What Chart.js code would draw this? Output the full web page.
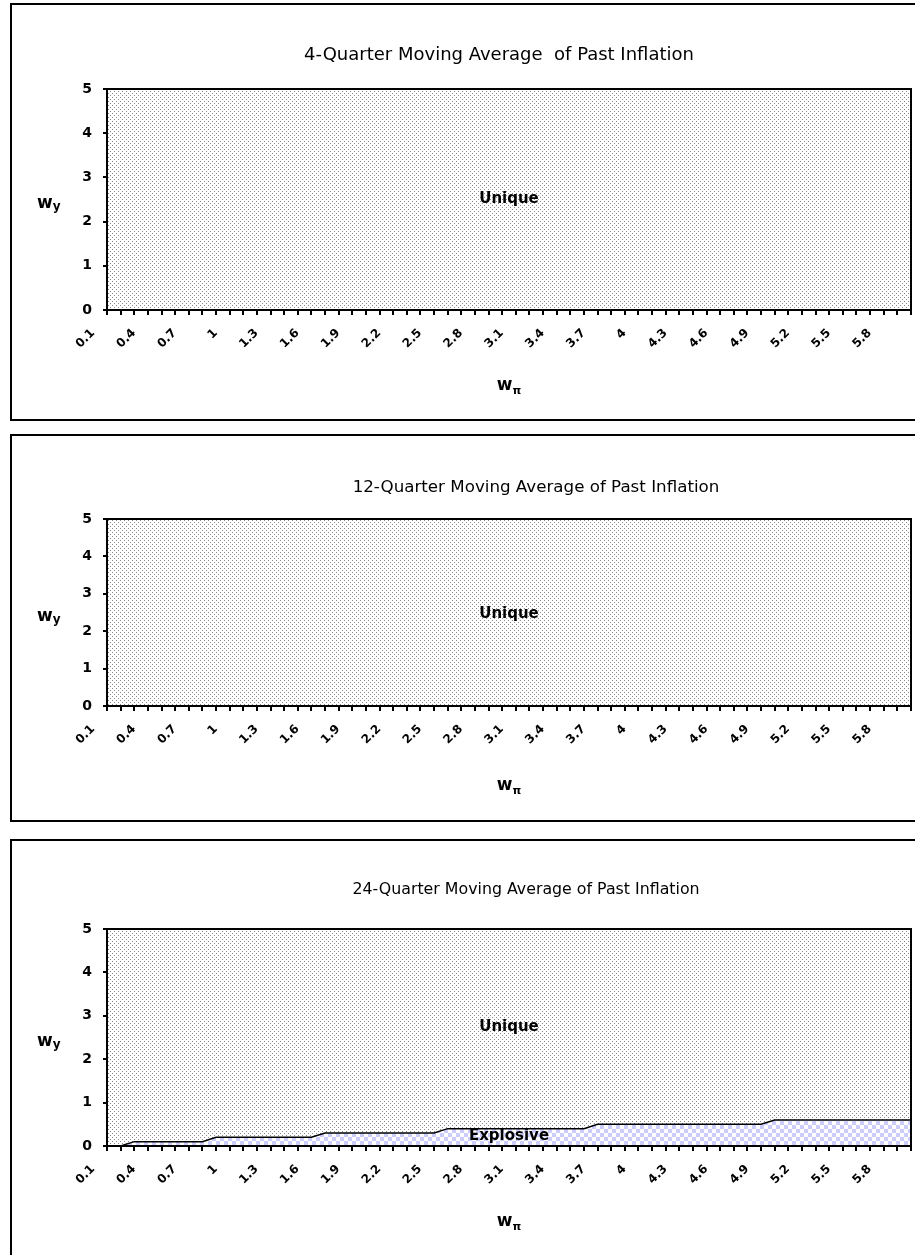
<!DOCTYPE html>
<html>
<head>
<meta charset="utf-8">
<script src="https://cdn.jsdelivr.net/npm/chart.js@4/dist/chart.umd.min.js"></script>
<style>
html, body { margin:0; padding:0; background:#fff; overflow:hidden; width:915px; height:1255px; }
.panel { position:absolute; left:10px; width:1000px; border:2px solid #000; box-sizing:border-box; background:#fff; }
.panel canvas { position:absolute; left:0; top:0; }
</style>
</head>
<body>
<div class="panel" id="p1"><canvas id="c1"></canvas></div>
<div class="panel" id="p2"><canvas id="c2"></canvas></div>
<div class="panel" id="p3"><canvas id="c3"></canvas></div>
<script>
// ---------- DATA ----------
const categories = ['0.1','0.2','0.3','0.4','0.5','0.6','0.7','0.8','0.9','1',
  '1.1','1.2','1.3','1.4','1.5','1.6','1.7','1.8','1.9','2',
  '2.1','2.2','2.3','2.4','2.5','2.6','2.7','2.8','2.9','3',
  '3.1','3.2','3.3','3.4','3.5','3.6','3.7','3.8','3.9','4',
  '4.1','4.2','4.3','4.4','4.5','4.6','4.7','4.8','4.9','5',
  '5.1','5.2','5.3','5.4','5.5','5.6','5.7','5.8','5.9','6'];
const tickLabels = ['0.1','0.4','0.7','1','1.3','1.6','1.9','2.2','2.5','2.8',
  '3.1','3.4','3.7','4','4.3','4.6','4.9','5.2','5.5','5.8'];
const titles = ['4-Quarter Moving Average  of Past Inflation',
  '12-Quarter Moving Average of Past Inflation',
  '24-Quarter Moving Average of Past Inflation'];
const regionNames = ['Unique', 'Explosive'];
const unique4Q = [5,5,5,5,5,5,5,5,5,5, 5,5,5,5,5,5,5,5,5,5, 5,5,5,5,5,5,5,5,5,5,
  5,5,5,5,5,5,5,5,5,5, 5,5,5,5,5,5,5,5,5,5, 5,5,5,5,5,5,5,5,5,5];
const unique12Q = [5,5,5,5,5,5,5,5,5,5, 5,5,5,5,5,5,5,5,5,5, 5,5,5,5,5,5,5,5,5,5,
  5,5,5,5,5,5,5,5,5,5, 5,5,5,5,5,5,5,5,5,5, 5,5,5,5,5,5,5,5,5,5];
const unique24Q = [5,5,5,5,5,5,5,5,5,5, 5,5,5,5,5,5,5,5,5,5, 5,5,5,5,5,5,5,5,5,5,
  5,5,5,5,5,5,5,5,5,5, 5,5,5,5,5,5,5,5,5,5, 5,5,5,5,5,5,5,5,5,5];
const explosive24Q = [0,0,0.1,0.1,0.1,0.1,0.1,0.1,0.2,0.2,
  0.2,0.2,0.2,0.2,0.2,0.2,0.3,0.3,0.3,0.3,
  0.3,0.3,0.3,0.3,0.3,0.4,0.4,0.4,0.4,0.4,
  0.4,0.4,0.4,0.4,0.4,0.4,0.5,0.5,0.5,0.5,
  0.5,0.5,0.5,0.5,0.5,0.5,0.5,0.5,0.5,0.6,
  0.6,0.6,0.6,0.6,0.6,0.6,0.6,0.6,0.6,0.6];

// ---------- LAYOUT (page coordinates) ----------
const FONT = '"DejaVu Sans", "Liberation Sans", sans-serif';
const panels = [
  { id:'1', boxTop:3,   boxH:418, plotTop:89,  plotBottom:310,  titleX:499, titleBase:60,  titleSize:18,
    xTitleBase:390, uniqueVal:2.5,  unique:unique4Q },
  { id:'2', boxTop:434, boxH:388, plotTop:519, plotBottom:706,  titleX:536, titleBase:492, titleSize:16.7,
    xTitleBase:790, uniqueVal:2.45, unique:unique12Q },
  { id:'3', boxTop:839, boxH:418, plotTop:929, plotBottom:1146, titleX:526, titleBase:894, titleSize:15.8,
    xTitleBase:1226, uniqueVal:2.75, unique:unique24Q, explosive:explosive24Q, explosiveVal:0.22 }
];
const PAGE_LEFT = 12, PLOT_LEFT = 107, PLOT_RIGHT = 911, CANVAS_W = 903;

// ---------- PATTERNS ----------
function makeDots() {
  const t = document.createElement('canvas'); t.width = 4; t.height = 4;
  const c = t.getContext('2d');
  c.fillStyle = '#fff'; c.fillRect(0,0,4,4);
  c.fillStyle = '#8a8a8a';
  c.fillRect(0,0,1,1); c.fillRect(2,2,1,1);
  return t;
}
function makeChecks() {
  const t = document.createElement('canvas'); t.width = 8; t.height = 8;
  const c = t.getContext('2d');
  c.fillStyle = '#fff'; c.fillRect(0,0,8,8);
  c.fillStyle = '#ccccff';
  c.fillRect(0,0,4,4); c.fillRect(4,4,4,4);
  return t;
}

function drawSub(ctx, main, sub, x, base, mainSize, subSize, drop, align) {
  ctx.font = 'bold ' + mainSize + 'px ' + FONT;
  const wm = ctx.measureText(main).width;
  ctx.font = 'bold ' + subSize + 'px ' + FONT;
  const ws = ctx.measureText(sub).width;
  let start = align === 'center' ? x - (wm + ws) / 2 : x;
  ctx.textAlign = 'left'; ctx.textBaseline = 'alphabetic';
  ctx.font = 'bold ' + mainSize + 'px ' + FONT;
  ctx.fillText(main, start, base);
  ctx.font = 'bold ' + subSize + 'px ' + FONT;
  ctx.fillText(sub, start + wm, base + drop);
}

const panelPlugin = {
  id: 'panelDecor',
  afterDatasetsDraw(chart, args, o) {
    const ctx = chart.ctx, a = chart.chartArea;
    ctx.save();
    ctx.strokeStyle = '#000'; ctx.lineWidth = 2;
    ctx.strokeRect(a.left, a.top, a.right - a.left, a.bottom - a.top);
    ctx.restore();
  },
  afterDraw(chart, args, o) {
    const ctx = chart.ctx, a = chart.chartArea, ys = chart.scales.y;
    const cx = (a.left + a.right) / 2;
    ctx.save();
    ctx.fillStyle = '#000';
    ctx.font = o.titleSize + 'px ' + FONT;
    ctx.textAlign = 'center'; ctx.textBaseline = 'alphabetic';
    ctx.fillText(o.title, o.titleX, o.titleBase);
    drawSub(ctx, 'w', 'y', 25, (a.top + a.bottom) / 2 + 8.5, 17, 12, 2, 'left');
    drawSub(ctx, 'w', 'π', cx, o.xTitleBase, 17, 11, 4, 'center');
    ctx.font = 'bold 15px ' + FONT;
    ctx.textAlign = 'center'; ctx.textBaseline = 'middle';
    ctx.fillText(regionNames[0], cx, ys.getPixelForValue(o.uniqueVal));
    if (o.explosiveVal !== undefined) {
      ctx.fillText(regionNames[1], cx, ys.getPixelForValue(o.explosiveVal));
    }
    ctx.restore();
  }
};

const dotsPattern = document.createElement('canvas').getContext('2d').createPattern(makeDots(), 'repeat');
const checksPattern = document.createElement('canvas').getContext('2d').createPattern(makeChecks(), 'repeat');

panels.forEach(p => {
  const div = document.getElementById('p' + p.id);
  div.style.top = p.boxTop + 'px';
  div.style.height = p.boxH + 'px';
  const canvasTop = p.boxTop + 2;
  const canvasH = p.boxH - 4;
  const cv = document.getElementById('c' + p.id);
  cv.width = CANVAS_W; cv.height = canvasH;
  cv.style.width = CANVAS_W + 'px'; cv.style.height = canvasH + 'px';

  const yWidth = PLOT_LEFT - PAGE_LEFT;
  const xHeight = canvasH - (p.plotBottom - canvasTop);

  const datasets = [];
  if (p.explosive) {
    datasets.push({ label: regionNames[1], data: p.explosive, fill: 'origin', order: 0,
      backgroundColor: checksPattern, borderColor: '#000', borderWidth: 1.5,
      pointRadius: 0, tension: 0 });
  }
  datasets.push({ label: regionNames[0], data: p.unique, fill: 'origin', order: 1,
    backgroundColor: dotsPattern, borderWidth: 0, borderColor: 'rgba(0,0,0,0)',
    pointRadius: 0, tension: 0 });

  new Chart(cv, {
    type: 'line',
    data: { labels: categories, datasets },
    options: {
      responsive: false, animation: false, devicePixelRatio: 1,
      layout: { padding: { top: p.plotTop - canvasTop, right: CANVAS_W - (PLOT_RIGHT - PAGE_LEFT), bottom: 0, left: 0 } },
      plugins: {
        legend: { display: false }, tooltip: { enabled: false }, title: { display: false },
        panelDecor: { title: titles[Number(p.id) - 1], titleX: p.titleX - PAGE_LEFT,
          titleBase: p.titleBase - canvasTop, titleSize: p.titleSize,
          xTitleBase: p.xTitleBase - canvasTop, uniqueVal: p.uniqueVal, explosiveVal: p.explosiveVal }
      },
      scales: {
        x: {
          type: 'category', offset: false,
          grid: { display: true, drawOnChartArea: false, drawTicks: true, tickLength: 5, color: '#000', lineWidth: 2 },
          border: { display: true, color: '#000', width: 2 },
          ticks: {
            autoSkip: false, minRotation: 45, maxRotation: 45, padding: 11, labelOffset: -14,
            color: '#000', font: { family: FONT, size: 12, weight: 'bold' },
            callback: function(v, i) { const l = categories[i]; return tickLabels.includes(l) ? l : ''; }
          },
          afterFit: s => { s.height = xHeight; s.paddingLeft = 0; s.paddingRight = 0; }
        },
        y: {
          min: 0, max: 5,
          grid: { display: true, drawOnChartArea: false, drawTicks: true, tickLength: 4, color: '#000', lineWidth: 2 },
          border: { display: true, color: '#000', width: 2 },
          ticks: { stepSize: 1, padding: 11, color: '#000', font: { family: FONT, size: 14, weight: 'bold' } },
          afterFit: s => { s.width = yWidth; s.paddingTop = 0; s.paddingBottom = 0; }
        }
      }
    },
    plugins: [panelPlugin]
  });
});
</script>
</body>
</html>
